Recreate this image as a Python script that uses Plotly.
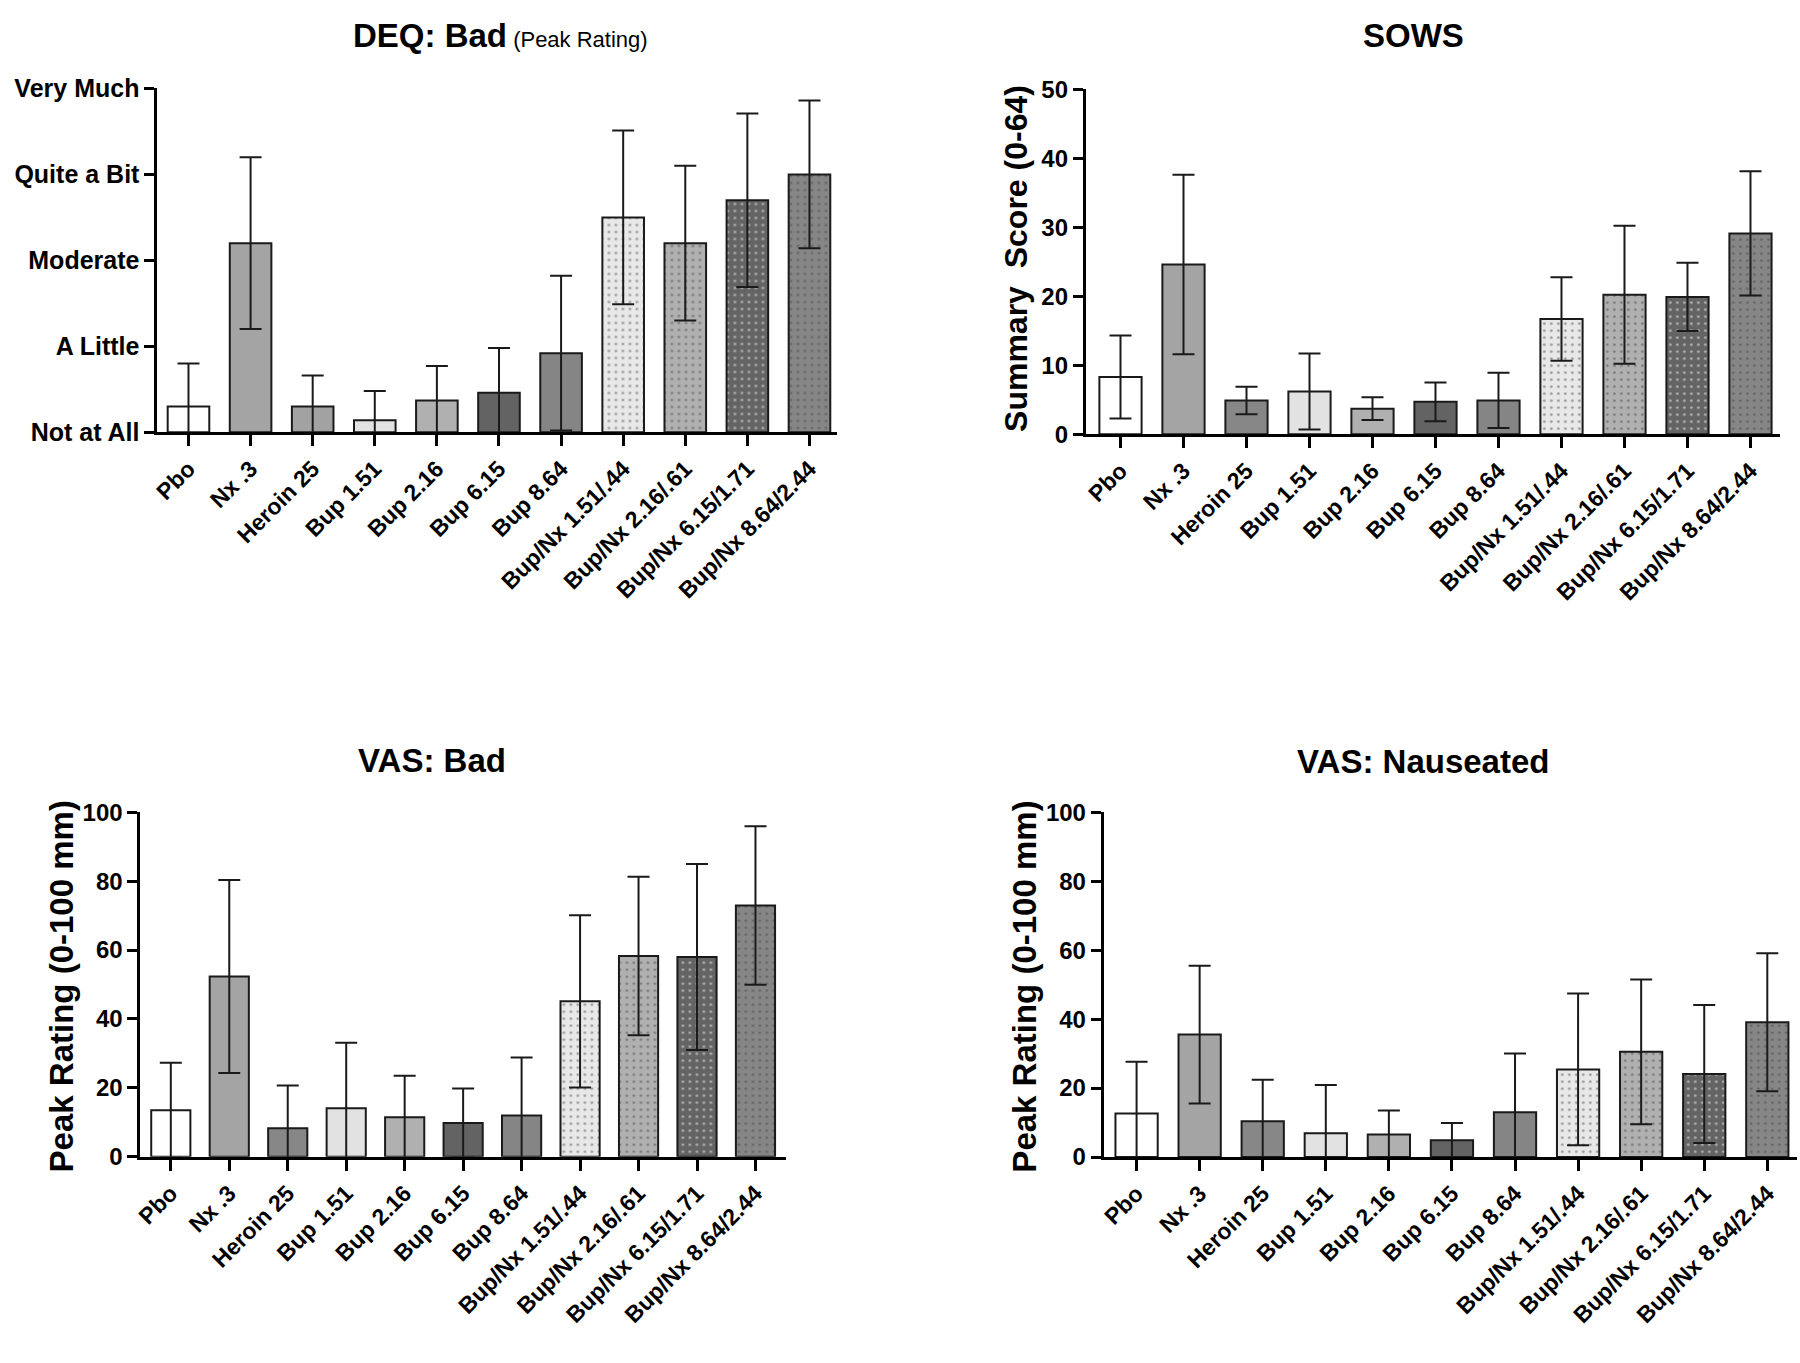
import plotly.graph_objects as go

# conditions (same order in every panel)
conditions = ['Pbo', 'Nx .3', 'Heroin 25', 'Bup 1.51', 'Bup 2.16', 'Bup 6.15', 'Bup 8.64',
              'Bup/Nx 1.51/.44', 'Bup/Nx 2.16/.61', 'Bup/Nx 6.15/1.71', 'Bup/Nx 8.64/2.44']

# DEQ: Bad (0 = Not at All ... 4 = Very Much)
deq_mean = [0.30, 2.20, 0.30, 0.14, 0.37, 0.46, 0.92, 2.50, 2.20, 2.70, 3.00]
deq_err = [0.50, 1.00, 0.36, 0.34, 0.40, 0.52, 0.90, 1.01, 0.90, 1.01, 0.86]
deq_levels = ['Not at All', 'A Little', 'Moderate', 'Quite a Bit', 'Very Much']

# SOWS summary score
sows_mean = [8.3, 24.6, 4.9, 6.2, 3.7, 4.7, 4.9, 16.7, 20.2, 19.9, 29.1]
sows_err = [6.0, 13.0, 2.0, 5.5, 1.65, 2.8, 4.0, 6.05, 10.0, 4.95, 9.0]

# VAS: Bad
vas_bad_mean = [13.5, 52.3, 8.3, 14.1, 11.5, 9.8, 12.0, 45.1, 58.3, 58.0, 72.9]
vas_bad_err = [13.8, 28.0, 12.4, 19.0, 12.0, 10.0, 16.8, 25.0, 23.0, 27.0, 23.0]

# VAS: Nauseated
vas_nau_mean = [12.6, 35.5, 10.4, 6.9, 6.5, 4.9, 13.0, 25.4, 30.5, 24.1, 39.1]
vas_nau_err = [15.0, 20.0, 12.0, 14.0, 7.0, 5.0, 17.0, 22.0, 21.0, 20.0, 20.0]

# bar fills
bar_colors = ['#ffffff', '#a4a4a4', '#878787', '#e2e2e2', '#b0b0b0', '#636363', '#858585',
              '#e8e8e8', '#b0b0b0', '#646464', '#868686']
deq_colors = list(bar_colors)
deq_colors[2] = '#a2a2a2'
bar_patterns = ['', '', '', '', '', '', '', '.', '.', '.', '.']

FONT = 'Liberation Sans, Arial, sans-serif'

fig = go.Figure()

panels = [
    # mean, err, colors, axis suffix, x domain, y domain, x range, y range
    (deq_mean, deq_err, deq_colors, '', [0.0839, 0.4628], [0.6867, 0.9442], [-0.5, 10.44], [0, 4]),
    (sows_mean, sows_err, bar_colors, '2', [0.6017, 0.9889], [0.6852, 0.9437], [-0.55, 10.47], [0, 50]),
    (vas_bad_mean, vas_bad_err, bar_colors, '3', [0.0744, 0.4344], [0.1440, 0.4021], [-0.52, 10.52], [0, 100]),
    (vas_nau_mean, vas_nau_err, bar_colors, '4', [0.6117, 0.9983], [0.1438, 0.4021], [-0.52, 10.47], [0, 100]),
]

for mean, err, colors, ax, xdom, ydom, xr, yr in panels:
    fig.add_trace(go.Bar(
        x=conditions, y=mean,
        xaxis='x' + ax, yaxis='y' + ax,
        width=0.67,
        marker=dict(color=colors,
                    line=dict(color='#1a1a1a', width=2),
                    pattern=dict(shape=bar_patterns, fgcolor='#2a2a2a', size=7, solidity=0.12)),
        error_y=dict(type='data', array=err, visible=True, color='#1a1a1a', thickness=2, width=11),
        showlegend=False,
    ))
    xaxis = dict(domain=xdom, range=xr, anchor='y' + ax,
                 showline=True, linewidth=3, linecolor='black',
                 ticks='outside', ticklen=11, tickwidth=2.5, tickcolor='black',
                 tickangle=-45, showgrid=False, zeroline=False,
                 tickfont=dict(family=FONT, size=23, color='black', weight='bold'))
    yaxis = dict(domain=ydom, range=yr, anchor='x' + ax,
                 showline=True, linewidth=3, linecolor='black',
                 ticks='outside', ticklen=10, tickwidth=2.5, tickcolor='black',
                 showgrid=False, zeroline=False,
                 tickfont=dict(family=FONT, size=24, color='black', weight='bold'))
    if ax == '':
        yaxis.update(tickvals=[0, 1, 2, 3, 4], ticktext=deq_levels, tickfont_size=25)
    elif ax == '2':
        yaxis.update(dtick=10)
    else:
        yaxis.update(dtick=20)
    fig.update_layout({'xaxis' + ax: xaxis, 'yaxis' + ax: yaxis})

titles = [
    ("<b>DEQ: Bad</b><span style='font-size:22px'> (Peak Rating)</span>", 495, 22),
    ('<b>SOWS</b>', 1412, 22),
    ('<b>VAS: Bad</b>', 427, 762),
    ('<b>VAS: Nauseated</b>', 1422, 763),
]
for text, px, py in titles:
    fig.add_annotation(text=text, x=px / 1800, y=1 - py / 1363, xref='paper', yref='paper',
                       xanchor='center', yanchor='middle', showarrow=False,
                       font=dict(family=FONT, size=33, color='black'))

ytitles = [
    ('<b>Summary  Score (0-64)</b>', 1013, 250, 32),
    ('<b>Peak Rating (0-100 mm)</b>', 55, 993, 33),
    ('<b>Peak Rating (0-100 mm)</b>', 1022, 993, 33),
]
for text, px, py, fs in ytitles:
    fig.add_annotation(text=text, x=px / 1800, y=1 - py / 1363, xref='paper', yref='paper',
                       xanchor='center', yanchor='middle', showarrow=False, textangle=-90,
                       font=dict(family=FONT, size=fs, color='black'))

fig.update_layout(width=1800, height=1363,
                  margin=dict(l=0, r=0, t=0, b=0),
                  paper_bgcolor='white', plot_bgcolor='white',
                  bargap=0.33)

fig.write_html('out.html', config={'displayModeBar': False},
               post_script="document.body.style.margin='0';")
